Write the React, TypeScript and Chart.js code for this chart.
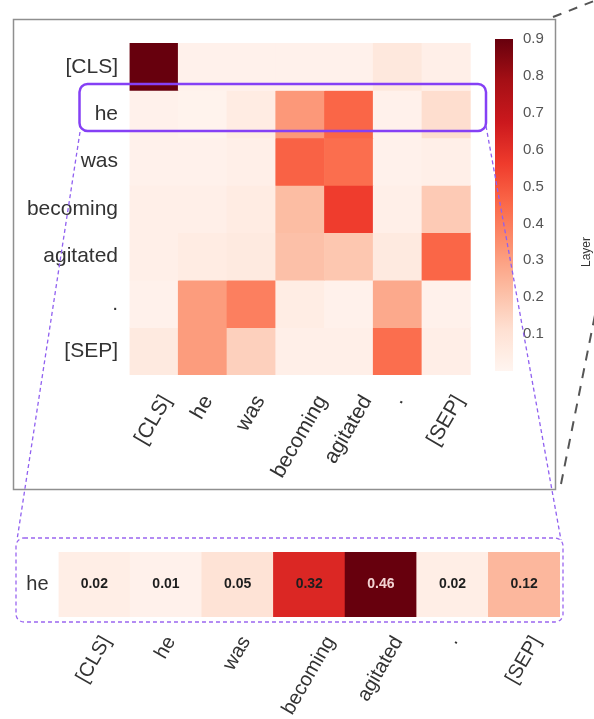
import React, { useEffect, useRef } from 'react';
import { Chart, registerables } from 'chart.js';

Chart.register(...registerables);

// ---------------- data ----------------
const tokens = ['[CLS]', 'he', 'was', 'becoming', 'agitated', '.', '[SEP]'];

const rowCLS = [0.9, 0.02, 0.02, 0.02, 0.02, 0.07, 0.03];
const rowHe = [0.02, 0.01, 0.05, 0.32, 0.46, 0.02, 0.12];
const rowWas = [0.02, 0.02, 0.03, 0.47, 0.44, 0.02, 0.03];
const rowBecoming = [0.03, 0.03, 0.05, 0.22, 0.56, 0.03, 0.18];
const rowAgitated = [0.03, 0.05, 0.06, 0.21, 0.19, 0.06, 0.46];
const rowDot = [0.02, 0.31, 0.39, 0.045, 0.02, 0.275, 0.02];
const rowSEP = [0.06, 0.31, 0.16, 0.03, 0.03, 0.44, 0.035];
const attention = [rowCLS, rowHe, rowWas, rowBecoming, rowAgitated, rowDot, rowSEP];

const stripRowLabel = 'he';
const stripValues = [0.02, 0.01, 0.05, 0.32, 0.46, 0.02, 0.12];

const colorbarMin = 0;
const colorbarMax = 0.9;
const colorbarTicks = [0.1, 0.2, 0.3, 0.4, 0.5, 0.6, 0.7, 0.8, 0.9];

// ---------------- colour map (matplotlib "Reds") ----------------
const REDS = [
  [255, 245, 240], [254, 224, 210], [252, 187, 161], [252, 146, 114], [251, 106, 74],
  [239, 59, 44], [203, 24, 29], [165, 15, 21], [103, 0, 13],
];
function reds(t: number): string {
  const c = Math.max(0, Math.min(1, t));
  const s = c * 8;
  const i = Math.min(7, Math.floor(s));
  const f = s - i;
  const a = REDS[i];
  const b = REDS[i + 1];
  const m = (k: number) => Math.round(a[k] + (b[k] - a[k]) * f);
  return `rgb(${m(0)},${m(1)},${m(2)})`;
}

const FONT = "'Liberation Sans', Arial, sans-serif";

function rotatedLabelsPlugin(labels: string[], size: number, gap: number, color: string) {
  return {
    id: 'rotatedLabels',
    afterDraw(chart: any) {
      const ctx = chart.ctx;
      const xs = chart.scales.x;
      ctx.save();
      ctx.font = `${size}px ${FONT}`;
      ctx.fillStyle = color;
      const h = size * 1.05;
      const a = Math.PI / 3;
      labels.forEach((lab, i) => {
        const px = xs.getPixelForTick(i);
        const w = ctx.measureText(lab).width;
        const ax = px + (Math.cos(a) * w - Math.sin(a) * h) / 2;
        const ay = chart.chartArea.bottom + gap;
        ctx.save();
        ctx.translate(ax, ay);
        ctx.rotate(-a);
        ctx.textAlign = 'right';
        ctx.textBaseline = 'top';
        ctx.fillText(lab, 0, 0);
        ctx.restore();
      });
      ctx.restore();
    },
  };
}

const valueLabelsPlugin = {
  id: 'valueLabels',
  afterDatasetsDraw(chart: any) {
    const ctx = chart.ctx;
    const meta = chart.getDatasetMeta(0);
    const vmax = Math.max(...stripValues);
    ctx.save();
    ctx.font = `bold 14px ${FONT}`;
    ctx.textAlign = 'center';
    ctx.textBaseline = 'middle';
    meta.data.forEach((el: any, i: number) => {
      const { x, y, base } = el.getProps(['x', 'y', 'base'], true);
      const v = stripValues[i];
      ctx.fillStyle = v / vmax > 0.85 ? '#f3d3d3' : '#1e1e1e';
      ctx.fillText(v.toFixed(2), x, (y + base) / 2);
    });
    ctx.restore();
  },
};

export default function App() {
  const heatRef = useRef<HTMLCanvasElement>(null);
  const cbRef = useRef<HTMLCanvasElement>(null);
  const stripRef = useRef<HTMLCanvasElement>(null);

  useEffect(() => {
    const charts: Chart[] = [];

    // ---------- heatmap ----------
    charts.push(
      new Chart(heatRef.current as HTMLCanvasElement, {
        type: 'bar',
        data: {
          labels: tokens,
          datasets: attention.map((row, i) => ({
            data: tokens.map(() => [i, i + 1]),
            backgroundColor: row.map((v) => reds((v - colorbarMin) / (colorbarMax - colorbarMin))),
            borderWidth: 0,
            barPercentage: 1,
            categoryPercentage: 1,
            grouped: false,
          })),
        } as any,
        options: {
          responsive: false,
          animation: false,
          layout: { padding: { top: 16, right: 85.3, left: 0, bottom: 0 } },
          plugins: { legend: { display: false }, tooltip: { enabled: false } },
          scales: {
            x: {
              type: 'category',
              grid: { display: false, drawTicks: false },
              border: { display: false },
              ticks: { display: false },
              afterFit: (s: any) => { s.height = 115; },
            },
            y: {
              type: 'linear',
              reverse: true,
              min: 0,
              max: tokens.length,
              grid: { display: false, drawTicks: false },
              border: { display: false },
              afterBuildTicks: (s: any) => { s.ticks = tokens.map((_, i) => ({ value: i + 0.5 })); },
              ticks: {
                autoSkip: false,
                callback: (_v: any, i: number) => tokens[i],
                font: { family: FONT, size: 21 },
                color: '#333333',
                padding: 11.5,
              },
              afterFit: (s: any) => { s.width = 116.5; },
            },
          },
        } as any,
        plugins: [rotatedLabelsPlugin(tokens, 21, 17, '#333333')],
      })
    );

    // ---------- colour bar ----------
    charts.push(
      new Chart(cbRef.current as HTMLCanvasElement, {
        type: 'bar',
        data: {
          labels: ['cb'],
          datasets: [{
            data: [[colorbarMin, colorbarMax]],
            backgroundColor: (ctx: any) => {
              const chart = ctx.chart;
              if (!chart.chartArea) return reds(0.5);
              const y = chart.scales.y;
              const y0 = y.getPixelForValue(colorbarMin);
              const y1 = y.getPixelForValue(colorbarMax);
              const g = chart.ctx.createLinearGradient(0, y0, 0, y1);
              for (let k = 0; k <= 16; k++) g.addColorStop(k / 16, reds(k / 16));
              return g;
            },
            borderWidth: 0,
            barPercentage: 1,
            categoryPercentage: 1,
          }],
        } as any,
        options: {
          responsive: false,
          animation: false,
          layout: { padding: { top: 15, bottom: 15, left: 15, right: 0 } },
          plugins: { legend: { display: false }, tooltip: { enabled: false } },
          scales: {
            x: { display: false },
            y: {
              position: 'right',
              min: colorbarMin,
              max: colorbarMax,
              grid: { display: false, drawTicks: false },
              border: { display: false },
              afterBuildTicks: (s: any) => { s.ticks = colorbarTicks.map((v) => ({ value: v })); },
              ticks: {
                autoSkip: false,
                callback: (v: any) => Number(v).toFixed(1),
                font: { family: FONT, size: 15 },
                color: '#555555',
                padding: 10,
              },
              afterFit: (s: any) => { s.width = 81; },
            },
          },
        } as any,
      })
    );

    // ---------- zoomed "he" strip ----------
    charts.push(
      new Chart(stripRef.current as HTMLCanvasElement, {
        type: 'bar',
        data: {
          labels: tokens,
          datasets: [{
            data: stripValues.map(() => [0, 1]),
            backgroundColor: stripValues.map((v) => reds(v / Math.max(...stripValues))),
            borderWidth: 0,
            barPercentage: 1,
            categoryPercentage: 1,
          }],
        } as any,
        options: {
          responsive: false,
          animation: false,
          layout: { padding: { top: 15, right: 34, left: 0, bottom: 0 } },
          plugins: { legend: { display: false }, tooltip: { enabled: false } },
          scales: {
            x: {
              type: 'category',
              grid: { display: false, drawTicks: false },
              border: { display: false },
              ticks: { display: false },
              afterFit: (s: any) => { s.height = 102; },
            },
            y: {
              type: 'linear',
              min: 0,
              max: 1,
              grid: { display: false, drawTicks: false },
              border: { display: false },
              afterBuildTicks: (s: any) => { s.ticks = [{ value: 0.5 }]; },
              ticks: {
                autoSkip: false,
                callback: () => stripRowLabel,
                font: { family: FONT, size: 20 },
                color: '#333333',
                padding: 10,
              },
              afterFit: (s: any) => { s.width = 58.5; },
            },
          },
        } as any,
        plugins: [valueLabelsPlugin, rotatedLabelsPlugin(tokens, 20, 16, '#333333')],
      })
    );

    return () => charts.forEach((c) => c.destroy());
  }, []);

  const abs = (left: number, top: number, w: number, h: number): React.CSSProperties => ({
    position: 'absolute', left, top, width: w, height: h,
  });

  return (
    <div style={{ position: 'absolute', left: 0, top: 0, width: 594, height: 719, overflow: 'hidden', background: '#ffffff' }}>
      <canvas ref={heatRef} width={543} height={471} style={abs(13, 19, 543, 471)} />
      <canvas ref={cbRef} width={114} height={370} style={abs(480, 20, 114, 370)} />
      <canvas ref={stripRef} width={594} height={189} style={abs(0, 530, 594, 189)} />
      <svg width={594} height={719} style={{ position: 'absolute', left: 0, top: 0, pointerEvents: 'none' }}>
        <rect x={13.5} y={19.5} width={542} height={470} fill="none" stroke="#8f8f8f" strokeWidth={1.5} />
        <rect x={79.5} y={84} width={406.5} height={47} rx={8} fill="none" stroke="#8540f5" strokeWidth={2.5} />
        <line x1={80} y1={132} x2={17} y2={540} stroke="#9060f0" strokeWidth={1.3} strokeDasharray="4 3" />
        <line x1={486} y1={126} x2={561} y2={540} stroke="#9060f0" strokeWidth={1.3} strokeDasharray="4 3" />
        <rect x={16} y={538} width={547} height={84} rx={8} fill="none" stroke="#9a66f0" strokeWidth={1.3} strokeDasharray="4 3" />
        <line x1={553} y1={17} x2={594} y2={1} stroke="#555555" strokeWidth={2} strokeDasharray="9 8" />
        <line x1={561} y1={484} x2={598} y2={300} stroke="#555555" strokeWidth={2} strokeDasharray="10 8" />
        <text x={590} y={252} transform="rotate(-90 590 252)" textAnchor="middle" fontFamily="Liberation Sans, Arial, sans-serif" fontSize={12} fill="#333333">Layer</text>
      </svg>
    </div>
  );
}
